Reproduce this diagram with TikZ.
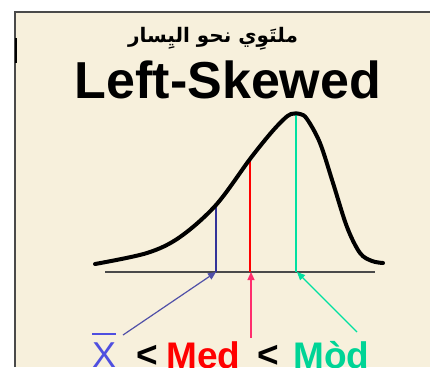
\documentclass[tikz,border=0pt]{standalone}
\usepackage{fontspec}
\setmainfont{Liberation Sans}
\newfontfamily\arabicfont[Script=Arabic]{DejaVu Sans}
\TeXXeTstate=1
\usetikzlibrary{arrows.meta}
\definecolor{paper}{HTML}{F7F0DC}
\definecolor{meanblue}{HTML}{333399}
\definecolor{meanarrow}{HTML}{5050A8}
\definecolor{meantext}{HTML}{4F4FE0}
\definecolor{medred}{HTML}{FF0000}
\definecolor{medarrow}{HTML}{FF2E6E}
\definecolor{modegreen}{HTML}{00E0A0}
\definecolor{modetext}{HTML}{00D496}
\definecolor{framegray}{HTML}{4A4A4A}
\tikzset{
  marker/.style={line width=2.4pt},
  pointer/.style={line width=1.2pt, -{Triangle[length=8pt,width=7pt]}},
  biglabel/.style={inner sep=0pt, anchor=base west}
}
\begin{document}
\begin{tikzpicture}[x=1pt, y=-1pt]
    \useasboundingbox (0,0) rectangle (430,367);
    % Slide background and frame
    \fill[white] (0,0) rectangle (430,367);
    \fill[paper] (15,12) rectangle (430,367);
    \draw[framegray, line width=1.5pt] (15,367) -- (15,12) -- (430,12);
    \draw[black, line width=2.5pt] (16,38) -- (16,63);

    % Titles
    \node[inner sep=0pt] (arabic) at (213,39) {\fontsize{20}{24}\selectfont\arabicfont\bfseries\beginR ملتَوِي نحو اليِسار\endR};
    \node[font=\fontsize{52}{60}\selectfont\bfseries] (title) at (228,80) {Left-Skewed};

    % Axis
    \coordinate (axisL) at (105,272);
    \coordinate (axisR) at (375,272);
    \draw[framegray, line width=1.2pt] (axisL) -- (axisR);

    % Mean, median and mode lines
    \coordinate (meanTop) at (216,205);
    \coordinate (meanFoot) at (216,272);
    \coordinate (medTop) at (250,160);
    \coordinate (medFoot) at (250,272);
    \coordinate (modeTop) at (296,114);
    \coordinate (modeFoot) at (296,272);
    \draw[marker, meanblue] (meanTop) -- (meanFoot);
    \draw[marker, medred] (medTop) -- (medFoot);
    \draw[marker, modegreen] (modeTop) -- (modeFoot);

    % Skewed curve
    \draw[line width=4pt, line cap=round, line join=round]
        plot[smooth, tension=0.55] coordinates {
        (95,264) (147,253) (180,237) (216,205) (250,159) (270,134)
        (283,120) (291,114) (300,114) (307,119) (320,143) (333,183)
        (347,227) (360,253) (372,261) (383,263)};

    % Labels
    \node[biglabel, font=\fontsize{36}{40}\selectfont, text=meantext] (mean) at (92,367) {X};
    \draw[meantext, line width=1.6pt] ([yshift=8pt]mean.north west) -- ([yshift=8pt]mean.north east);
    \node[biglabel, font=\fontsize{37}{40}\selectfont\bfseries] (lt1) at (136,367) {<};
    \node[biglabel, font=\fontsize{37}{40}\selectfont\bfseries, text=medred] (med) at (166,368) {Med};
    \node[biglabel, font=\fontsize{37}{40}\selectfont\bfseries] (lt2) at (257,367) {<};
    \begin{scope}
        \clip (280,300) rectangle (369,367);
        \node[biglabel, font=\fontsize{37}{40}\selectfont\bfseries, text=modetext] (mode) at (293,368) {M\`ode};
    \end{scope}

    % Pointers
    \coordinate (meanStart) at (123,335);
    \coordinate (medStart) at (251,338);
    \coordinate (modeStart) at (357,332);
    \draw[pointer, meanarrow] (meanStart) -- (meanFoot);
    \draw[pointer, medarrow] (medStart) -- (251,272);
    \draw[pointer, modegreen] (modeStart) -- (297,272);
\end{tikzpicture}
\end{document}
